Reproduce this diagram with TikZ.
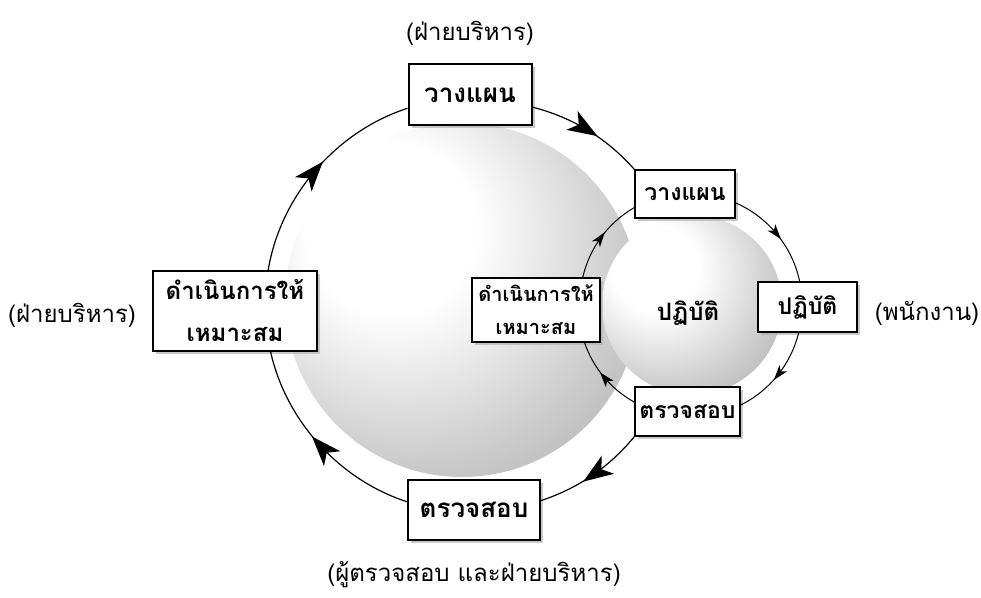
\documentclass[tikz,border=0pt]{standalone}
\usepackage{fontspec}
\newfontfamily\thaifont[Script=Thai]{Loma}
\usetikzlibrary{decorations.markings,shadows}

\pgfdeclareradialshading{sphereshade}{\pgfpoint{-12bp}{12bp}}{%
  color(0bp)=(white); color(12bp)=(white); color(30bp)=(black!20);
  color(46bp)=(black!36); color(56bp)=(black!45); color(75bp)=(black!48)}

\begin{document}
\begin{tikzpicture}[x=1pt,y=1pt,font=\thaifont,looseness=0.9]
  \tikzstyle{bigbox}=[draw=black,line width=2pt,fill=white,inner sep=2pt,align=center,
    font=\thaifont\bfseries\fontsize{26}{40}\selectfont,
    drop shadow={shadow xshift=3pt,shadow yshift=-3pt,fill=black!30,opacity=0.7}]
  \tikzstyle{smallbox}=[bigbox,line width=1.5pt,font=\thaifont\bfseries\fontsize{23}{33}\selectfont]
  \tikzstyle{who}=[font=\thaifont\fontsize{24}{28}\selectfont]
  \tikzstyle{bigarc}=[line width=1.2pt,postaction={decorate},
    decoration={markings,mark=at position 0.5 with
      {\fill (11pt,0pt) -- (-19pt,11pt) -- (-11pt,0pt) -- (-19pt,-11pt) -- cycle;}}]
  \tikzstyle{smallarc}=[line width=1pt,postaction={decorate},
    decoration={markings,mark=at position 0.5 with
      {\fill (6pt,0pt) -- (-9pt,5pt) -- (-5pt,0pt) -- (-9pt,-5pt) -- cycle;}}]
  \useasboundingbox (0,0) rectangle (981,597);

  % the two spheres
  \shade[shading=sphereshade] (462,297) circle[radius=177pt];
  \shade[shading=sphereshade] (692,292) circle[radius=90pt];

  % outer cycle (management)
  \node[bigbox,minimum width=123pt,minimum height=61pt] (plan) at (470,502) {วางแผน};
  \node[bigbox,minimum width=164pt,minimum height=80pt,
        font=\thaifont\bfseries\fontsize{24}{42}\selectfont] (act) at (235,286) {ดำเนินการให้\\เหมาะสม};
  \node[bigbox,minimum width=132pt,minimum height=60pt] (check) at (474,87) {ตรวจสอบ};

  % inner cycle (staff)
  \node[smallbox,minimum width=100pt,minimum height=48pt] (splan) at (685,403) {วางแผน};
  \node[smallbox,minimum width=99pt,minimum height=50pt] (sdo) at (807.5,290) {ปฏิบัติ};
  \node[smallbox,minimum width=105pt,minimum height=49pt] (scheck) at (687.5,185.5) {ตรวจสอบ};
  \node[smallbox,minimum width=128pt,minimum height=64pt,
        font=\thaifont\bfseries\fontsize{20}{33}\selectfont] (sact) at (536,287) {ดำเนินการให้\\เหมาะสม};
  \node[font=\thaifont\bfseries\fontsize{24}{28}\selectfont] (do) at (688,284) {ปฏิบัติ};

  % who does it
  \node[who] (wplan) at (470,564) {(ฝ่ายบริหาร)};
  \node[who] (wact) at (72,282) {(ฝ่ายบริหาร)};
  \node[who] (wdo) at (927,284) {(พนักงาน)};
  \node[who] (wcheck) at (474,22) {(ผู้ตรวจสอบ และฝ่ายบริหาร)};

  % arrows of the outer cycle
  \draw[bigarc] (act.51) to[bend left=31.3] (plan.192);
  \draw[bigarc] (plan.-11) to[bend left=16.9] (splan.north west);
  \draw[bigarc] (scheck.south west) to[bend left=16] (check.8);
  \draw[bigarc] (check.173) to[bend left=29.6] (act.-49);

  % arrows of the inner cycle
  \draw[smallarc] (sact.35) to[bend left=23.3] (splan.195);
  \draw[smallarc] (splan.-10) to[bend left=27.2] (sdo.107);
  \draw[smallarc] (sdo.251) to[bend left=24.8] (scheck.7);
  \draw[smallarc] (scheck.170) to[bend left=20.6] (sact.-34);
\end{tikzpicture}
\end{document}
